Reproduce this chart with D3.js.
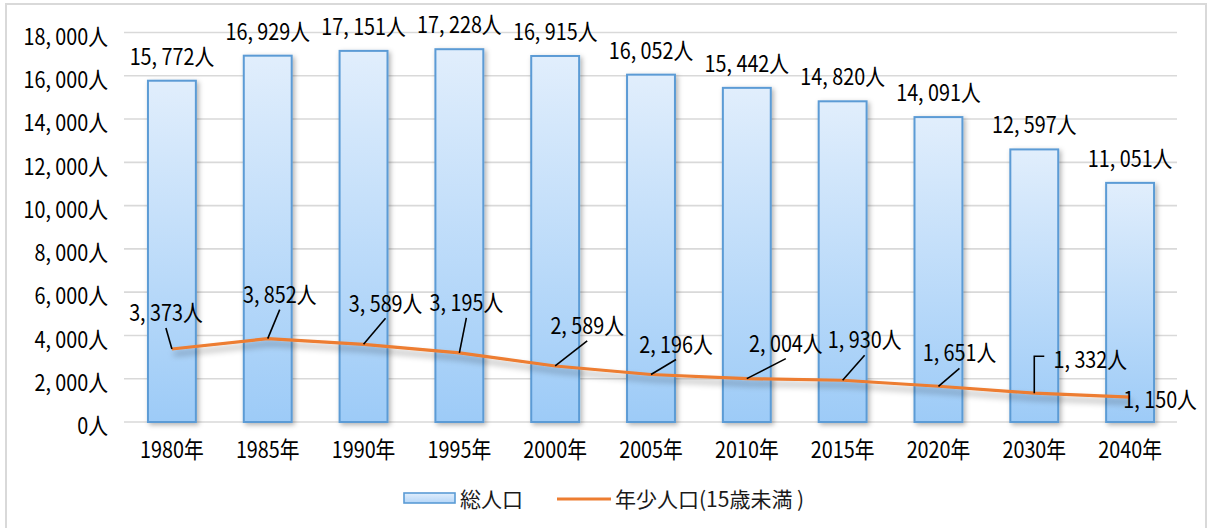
<!DOCTYPE html>
<html><head><meta charset="utf-8">
<script src="https://cdn.jsdelivr.net/npm/d3@7"></script>
<style>
html,body{margin:0;padding:0;background:#fff;}
svg{display:block;}
</style></head>
<body>
<svg id="chart" width="1208" height="528"></svg>
<script>
// ---- data ----
const categories = ["1980年","1985年","1990年","1995年","2000年","2005年","2010年","2015年","2020年","2030年","2040年"];
const totalPop = [15772,16929,17151,17228,16915,16052,15442,14820,14091,12597,11051];
const youngPop = [3373,3852,3589,3195,2589,2196,2004,1930,1651,1332,1150];
const yTicks = [0,2000,4000,6000,8000,10000,12000,14000,16000,18000];
const seriesNames = ["総人口","年少人口(15歳未満 )"];

// ---- layout (label offsets from point, in px) ----
const labelOffsets = [[-6,-39],[12,-47],[22,-44],[7,-53],[32,-43],[25,-33],[39,-38],[22,-43],[21,-36],[56,-36],[30,0]];
const leaderType = ["line","line","line","line","line","line","line","line","line","elbow","none"];

const svg = d3.select("#chart");
const fontNum = "'Noto Sans CJK JP','Noto Sans',sans-serif";
const SX = 0.86;
const FS = 23;
const fmt = v => d3.format(",")(v).replace(/,/g, ", ") + "人";

const defs = svg.append("defs");
const grad = defs.append("linearGradient").attr("id","barGrad").attr("x1",0).attr("y1",0).attr("x2",0).attr("y2",1);
grad.append("stop").attr("offset","0%").attr("stop-color","#e1eefc");
grad.append("stop").attr("offset","100%").attr("stop-color","#9dcbf7");
const gradL = defs.append("linearGradient").attr("id","legGrad").attr("x1",0).attr("y1",0).attr("x2",0).attr("y2",1);
gradL.append("stop").attr("offset","0%").attr("stop-color","#e1eefc");
gradL.append("stop").attr("offset","100%").attr("stop-color","#b5d6f8");
const fb = defs.append("filter").attr("id","barShadow").attr("x","-30%").attr("y","-10%").attr("width","160%").attr("height","130%");
fb.append("feDropShadow").attr("dx",2).attr("dy",2).attr("stdDeviation",2.5).attr("flood-color","#000").attr("flood-opacity",0.3);
const fl = defs.append("filter").attr("id","lineShadow").attr("x","-10%").attr("y","-100%").attr("width","120%").attr("height","400%");
fl.append("feDropShadow").attr("dx",2).attr("dy",5).attr("stdDeviation",3).attr("flood-color","#000").attr("flood-opacity",0.35);

// border
svg.append("rect").attr("x",6).attr("y",4).attr("width",1200).attr("height",530)
  .attr("fill","none").attr("stroke","#d9d9d9").attr("stroke-width",2);

const x = d3.scaleBand().domain(categories).range([124,1178]).paddingInner(0.5).paddingOuter(0.25);
const y = d3.scaleLinear().domain([0,18000]).range([422,32.5]);

// gridlines
svg.append("g").selectAll("line").data(yTicks).join("line")
  .attr("x1",124).attr("x2",1177).attr("y1",d=>y(d)).attr("y2",d=>y(d))
  .attr("stroke","#d9d9d9").attr("stroke-width",1.6);

// y tick labels
svg.append("g").selectAll("text").data(yTicks).join("text")
  .attr("transform",d=>`translate(108,${y(d)+2}) scale(${SX},1)`)
  .attr("text-anchor","end").attr("dominant-baseline","central")
  .attr("font-family",fontNum).attr("font-size",FS).attr("fill","#000")
  .text(d=>fmt(d));

// x labels
svg.append("g").selectAll("text").data(categories).join("text")
  .attr("transform",d=>`translate(${x(d)+x.bandwidth()/2},${458}) scale(${SX},1)`)
  .attr("text-anchor","middle")
  .attr("font-family",fontNum).attr("font-size",FS).attr("fill","#000")
  .text(d=>d);

// bars
svg.append("g").selectAll("rect").data(totalPop).join("rect")
  .attr("x",(d,i)=>x(categories[i]))
  .attr("y",d=>y(d))
  .attr("width",x.bandwidth())
  .attr("height",d=>y(0)-y(d))
  .attr("fill","url(#barGrad)").attr("stroke","#5b9bd5").attr("stroke-width",2)
  .attr("filter","url(#barShadow)");

// bar labels
svg.append("g").selectAll("text").data(totalPop).join("text")
  .attr("transform",(d,i)=>`translate(${x(categories[i])+x.bandwidth()/2},${y(d)-16}) scale(${SX},1)`)
  .attr("text-anchor","middle")
  .attr("font-family",fontNum).attr("font-size",FS).attr("fill","#000")
  .text(d=>fmt(d));

// line
const cx = i => x(categories[i]) + x.bandwidth()/2;
const line = d3.line().x((d,i)=>cx(i)).y(d=>y(d));
svg.append("path").datum(youngPop).attr("d",line)
  .attr("fill","none").attr("stroke","#ed7d31").attr("stroke-width",3.2)
  .attr("stroke-linejoin","round").attr("filter","url(#lineShadow)");

// leaders
const lg = svg.append("g");
youngPop.forEach((v,i)=>{
  const px = cx(i), py = y(v);
  const [dx,dy] = labelOffsets[i];
  const tx = px+dx, ty = py+dy;
  if (leaderType[i]==="line") {
    lg.append("line").attr("x1",tx).attr("y1",ty+18).attr("x2",px).attr("y2",py)
      .attr("stroke","#000").attr("stroke-width",1.6);
  } else if (leaderType[i]==="elbow") {
    lg.append("path").attr("d",`M${tx-46},${ty-1}H${px}V${py}`)
      .attr("fill","none").attr("stroke","#000").attr("stroke-width",1.6);
  }
});

// line labels
svg.append("g").selectAll("text").data(youngPop).join("text")
  .attr("transform",(d,i)=>`translate(${cx(i)+labelOffsets[i][0]},${y(d)+labelOffsets[i][1]+1}) scale(${SX},1)`)
  .attr("text-anchor","middle").attr("dominant-baseline","central")
  .attr("font-family",fontNum).attr("font-size",FS).attr("fill","#000")
  .text(d=>fmt(d));

// legend
const leg = svg.append("g");
leg.append("rect").attr("x",404).attr("y",493).attr("width",51).attr("height",10)
  .attr("fill","url(#legGrad)").attr("stroke","#5b9bd5").attr("stroke-width",1.6);
leg.append("text").attr("x",460).attr("y",498).attr("dominant-baseline","central")
  .attr("font-family",fontNum).attr("font-size",21).attr("fill","#1a1a1a").text(seriesNames[0]);
leg.append("line").attr("x1",557).attr("x2",611).attr("y1",499).attr("y2",499)
  .attr("stroke","#ed7d31").attr("stroke-width",3);
leg.append("text").attr("x",615).attr("y",498).attr("dominant-baseline","central")
  .attr("font-family",fontNum).attr("font-size",21).attr("fill","#1a1a1a").text(seriesNames[1]);
</script>
</body></html>
